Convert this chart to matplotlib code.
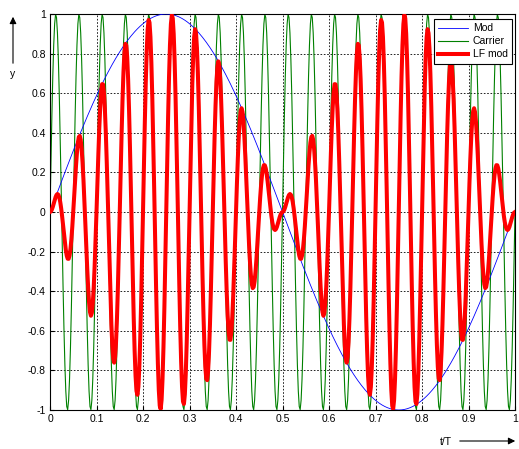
import matplotlib
matplotlib.use('Agg')
import matplotlib.pyplot as plt
import numpy as np

plt.rcParams['font.family'] = ['Liberation Sans', 'DejaVu Sans']

# values
mod_cycles = 1        # one period of the modulating signal over t/T = 0..1
carrier_cycles = 20   # carrier periods over t/T = 0..1
n_samples = 501
x_ticks = [0, 0.1, 0.2, 0.3, 0.4, 0.5, 0.6, 0.7, 0.8, 0.9, 1]
y_ticks = [-1, -0.8, -0.6, -0.4, -0.2, 0, 0.2, 0.4, 0.6, 0.8, 1]
labels = ['Mod', 'Carrier', 'LF mod']

t = np.linspace(0, 1, n_samples)
mod = np.sin(2 * np.pi * mod_cycles * t)
carrier = np.sin(2 * np.pi * carrier_cycles * t)
lf_mod = np.abs(mod) * carrier

W, H = 519, 449
fig = plt.figure(figsize=(W / 100, H / 100), dpi=100)
ax = fig.add_axes([50 / W, (H - 410) / H, (515 - 50) / W, (410 - 14) / H])

ax.plot(t, mod, color='#0000ff', lw=0.6, label=labels[0], zorder=3)
ax.plot(t, carrier, color='#008000', lw=0.8, label=labels[1], zorder=2)
ax.plot(t, lf_mod, color='#ff0000', lw=2.9, label=labels[2], zorder=4)

ax.set_xlim(0, 1)
ax.set_ylim(-1, 1)
ax.set_xticks(x_ticks)
ax.set_yticks(y_ticks)
ax.set_xticklabels(['%g' % v for v in x_ticks])
ax.set_yticklabels(['%g' % v for v in y_ticks])
ax.tick_params(direction='in', length=3, labelsize=7.5, pad=3)
ax.grid(True, color='k', linestyle=(0, (2, 2)), linewidth=0.6)
for s in ax.spines.values():
    s.set_linewidth(0.8)

leg = ax.legend(loc='upper right', fontsize=7.5, fancybox=False, framealpha=1,
                edgecolor='k', borderpad=0.4, handlelength=2.8, handletextpad=0.5,
                labelspacing=0.3, borderaxespad=0,
                bbox_to_anchor=(512 / W, 1 - 19 / H), bbox_transform=fig.transFigure)
leg.get_frame().set_linewidth(0.8)
leg.set_zorder(10)

# axis arrows
fig.add_artist(plt.Annotation('', xy=(13 / W, 1 - 14 / H), xytext=(13 / W, 1 - 66 / H),
                              xycoords='figure fraction', textcoords='figure fraction',
                              arrowprops=dict(arrowstyle='-|>', color='k', lw=0.8,
                                              mutation_scale=10)))
fig.text(13 / W, 1 - 74 / H, 'y', ha='center', va='center', fontsize=7.5)
fig.add_artist(plt.Annotation('', xy=(518 / W, 1 - 441 / H), xytext=(457 / W, 1 - 441 / H),
                              xycoords='figure fraction', textcoords='figure fraction',
                              arrowprops=dict(arrowstyle='-|>', color='k', lw=0.8,
                                              mutation_scale=10)))
fig.text(446 / W, 1 - 442 / H, 't/T', ha='center', va='center', fontsize=7.5)

fig.savefig('out.png', dpi=100)
